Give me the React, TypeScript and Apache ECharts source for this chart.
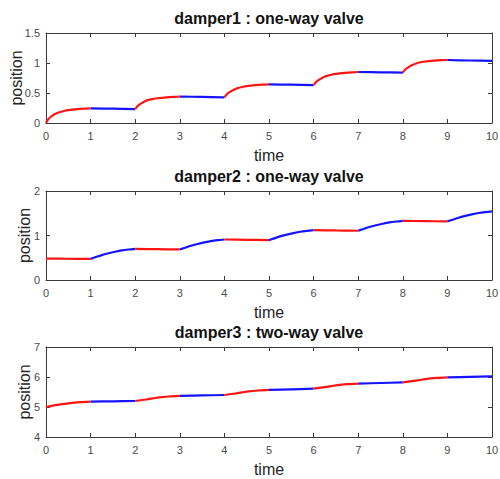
import React, { useEffect, useRef } from "react";
import * as echarts from "echarts";

// Simulated piston positions of three dampers over 10 s of time.
const damper1Time = [
  0, 0.05, 0.1, 0.2, 0.3, 0.4, 0.5, 0.7, 0.85, 1,
  1.5, 2,
  2.05, 2.1, 2.2, 2.3, 2.4, 2.5, 2.7, 2.85, 3,
  3.5, 4,
  4.05, 4.1, 4.2, 4.3, 4.4, 4.5, 4.7, 4.85, 5,
  5.5, 6,
  6.05, 6.1, 6.2, 6.3, 6.4, 6.5, 6.7, 6.85, 7,
  7.5, 8,
  8.05, 8.1, 8.2, 8.3, 8.4, 8.5, 8.7, 8.85, 9,
  9.5, 10,
];
const damper1Pos = [
  0, 0.06, 0.1, 0.15, 0.18, 0.2, 0.215, 0.232, 0.24, 0.245,
  0.238, 0.232,
  0.28, 0.31, 0.355, 0.385, 0.4, 0.412, 0.428, 0.436, 0.44,
  0.435, 0.428,
  0.476, 0.506, 0.551, 0.581, 0.6, 0.614, 0.63, 0.639, 0.644,
  0.638, 0.632,
  0.68, 0.71, 0.755, 0.785, 0.805, 0.818, 0.835, 0.845, 0.85,
  0.845, 0.84,
  0.888, 0.918, 0.963, 0.993, 1.012, 1.025, 1.04, 1.048, 1.05,
  1.042, 1.035,
];
const damper1Colors = ["red", "blue", "red", "blue", "red", "blue", "red", "blue", "red", "blue"];

const damper2Time = [
  0, 0.5, 1,
  1.1, 1.25, 1.4, 1.55, 1.7, 1.85, 2,
  2.5, 3,
  3.1, 3.25, 3.4, 3.55, 3.7, 3.85, 4,
  4.5, 5,
  5.1, 5.25, 5.4, 5.55, 5.7, 5.85, 6,
  6.5, 7,
  7.1, 7.25, 7.4, 7.55, 7.7, 7.85, 8,
  8.5, 9,
  9.1, 9.25, 9.4, 9.55, 9.7, 9.85, 10,
];
const damper2Pos = [
  0.48, 0.477, 0.475,
  0.51, 0.56, 0.6, 0.635, 0.665, 0.685, 0.7,
  0.693, 0.687,
  0.72, 0.77, 0.81, 0.845, 0.875, 0.895, 0.91,
  0.903, 0.897,
  0.93, 0.98, 1.02, 1.055, 1.085, 1.105, 1.12,
  1.113, 1.107,
  1.14, 1.19, 1.23, 1.265, 1.295, 1.315, 1.33,
  1.323, 1.317,
  1.35, 1.4, 1.44, 1.475, 1.505, 1.525, 1.54,
];
const damper2Colors = ["red", "blue", "red", "blue", "red", "blue", "red", "blue", "red", "blue"];

const damper3Time = [
  0, 0.25, 0.5, 0.75, 1,
  1.5, 2,
  2.25, 2.5, 2.75, 3,
  3.5, 4,
  4.25, 4.5, 4.75, 5,
  5.5, 6,
  6.25, 6.5, 6.75, 7,
  7.5, 8,
  8.25, 8.5, 8.75, 9,
  9.5, 10,
];
const damper3Pos = [
  5.0, 5.07, 5.12, 5.16, 5.18,
  5.19, 5.2,
  5.25, 5.31, 5.35, 5.37,
  5.385, 5.4,
  5.45, 5.51, 5.55, 5.57,
  5.59, 5.61,
  5.66, 5.72, 5.76, 5.78,
  5.8, 5.82,
  5.87, 5.93, 5.97, 5.99,
  6.005, 6.02,
];
const damper3Colors = ["red", "blue", "red", "blue", "red", "blue", "red", "blue", "red", "blue"];

const titles = ["damper1 : one-way valve", "damper2 : one-way valve", "damper3 : two-way valve"];
const yMins = [0, 0, 4];
const yMaxs = [1.5, 2, 7];
const yIntervals = [0.5, 1, 1];
const xMin = 0;
const xMax = 10;
const xInterval = 1;

const COLOR_MAP: Record<string, string> = { red: "#ff1414", blue: "#1414ff" };
const AXIS_COLOR = "#3a3a3a";
const TEXT_COLOR = "#262626";
const FONT = "Liberation Sans, Arial, Helvetica, sans-serif";

const panels = [
  { time: damper1Time, pos: damper1Pos, colors: damper1Colors },
  { time: damper2Time, pos: damper2Pos, colors: damper2Colors },
  { time: damper3Time, pos: damper3Pos, colors: damper3Colors },
];

const gridBoxes = [
  { left: 46, top: 33, width: 446, height: 90 },
  { left: 46, top: 191, width: 446, height: 89 },
  { left: 46, top: 347, width: 446, height: 90 },
];
// distance from the left frame to the "position" label, wider where tick labels are wider
const yNameGaps = [22, 14, 14];

function buildOption(): echarts.EChartsCoreOption {
  const xAxis: any[] = [];
  const yAxis: any[] = [];
  const series: any[] = [];
  const graphic: any[] = [];

  panels.forEach((p, i) => {
    const box = gridBoxes[i];
    // bottom x axis with labels
    xAxis.push({
      type: "value",
      gridIndex: i,
      min: xMin,
      max: xMax,
      interval: xInterval,
      position: "bottom",
      name: "time",
      nameLocation: "middle",
      nameGap: 24,
      nameTextStyle: { fontSize: 16, color: TEXT_COLOR, fontFamily: FONT },
      axisLine: { show: true, onZero: false, lineStyle: { color: AXIS_COLOR, width: 1 } },
      axisTick: { show: true, inside: true, length: 4, lineStyle: { color: AXIS_COLOR } },
      axisLabel: { fontSize: 11, color: "#4a4a4a", fontFamily: FONT, margin: 7 },
      splitLine: { show: false },
    });
    // top x axis (frame + ticks only)
    xAxis.push({
      type: "value",
      gridIndex: i,
      min: xMin,
      max: xMax,
      interval: xInterval,
      position: "top",
      axisLine: { show: true, onZero: false, lineStyle: { color: AXIS_COLOR, width: 1 } },
      axisTick: { show: true, inside: true, length: 4, lineStyle: { color: AXIS_COLOR } },
      axisLabel: { show: false },
      splitLine: { show: false },
    });
    yAxis.push({
      type: "value",
      gridIndex: i,
      min: yMins[i],
      max: yMaxs[i],
      interval: yIntervals[i],
      position: "left",
      name: "position",
      nameLocation: "middle",
      nameGap: yNameGaps[i],
      nameMoveOverlap: false,
      nameTextStyle: { fontSize: 16, color: TEXT_COLOR, fontFamily: FONT },
      axisLine: { show: true, onZero: false, lineStyle: { color: AXIS_COLOR, width: 1 } },
      axisTick: { show: true, inside: true, length: 4, lineStyle: { color: AXIS_COLOR } },
      axisLabel: { fontSize: 11, color: "#4a4a4a", fontFamily: FONT, margin: 6 },
      splitLine: { show: false },
    });
    yAxis.push({
      type: "value",
      gridIndex: i,
      min: yMins[i],
      max: yMaxs[i],
      interval: yIntervals[i],
      position: "right",
      axisLine: { show: true, onZero: false, lineStyle: { color: AXIS_COLOR, width: 1 } },
      axisTick: { show: true, inside: true, length: 4, lineStyle: { color: AXIS_COLOR } },
      axisLabel: { show: false },
      splitLine: { show: false },
    });

    // split the trajectory into unit-time segments, each in its own colour
    for (let k = 0; k < p.colors.length; k++) {
      const data: number[][] = [];
      p.time.forEach((t, j) => {
        if (t >= k && t <= k + 1) data.push([t, p.pos[j]]);
      });
      series.push({
        type: "line",
        name: `damper${i + 1}-${k}`,
        xAxisIndex: i * 2,
        yAxisIndex: i * 2,
        data,
        showSymbol: false,
        smooth: 0.3,
        color: COLOR_MAP[p.colors[k]],
        lineStyle: { color: COLOR_MAP[p.colors[k]], width: 2.2 },
        silent: true,
      });
    }

    graphic.push({
      type: "text",
      x: box.left + box.width / 2,
      y: box.top - 15,
      style: {
        text: titles[i],
        fontSize: 16,
        fontWeight: "bold",
        fontFamily: FONT,
        fill: "#111",
        textAlign: "center",
        textVerticalAlign: "middle",
      },
    });
  });

  return {
    animation: false,
    backgroundColor: "#ffffff",
    grid: gridBoxes.map((b) => ({ ...b, containLabel: false, outerBoundsMode: "none" })),
    xAxis,
    yAxis,
    series,
    graphic,
  };
}

export default function App() {
  const ref = useRef<HTMLDivElement>(null);
  useEffect(() => {
    if (!ref.current) return;
    const chart = echarts.init(ref.current, undefined, { renderer: "svg" });
    chart.setOption(buildOption());
    return () => chart.dispose();
  }, []);
  return (
    <div
      ref={ref}
      style={{ position: "fixed", left: 0, top: 0, width: 500, height: 479, background: "#fff" }}
    />
  );
}
